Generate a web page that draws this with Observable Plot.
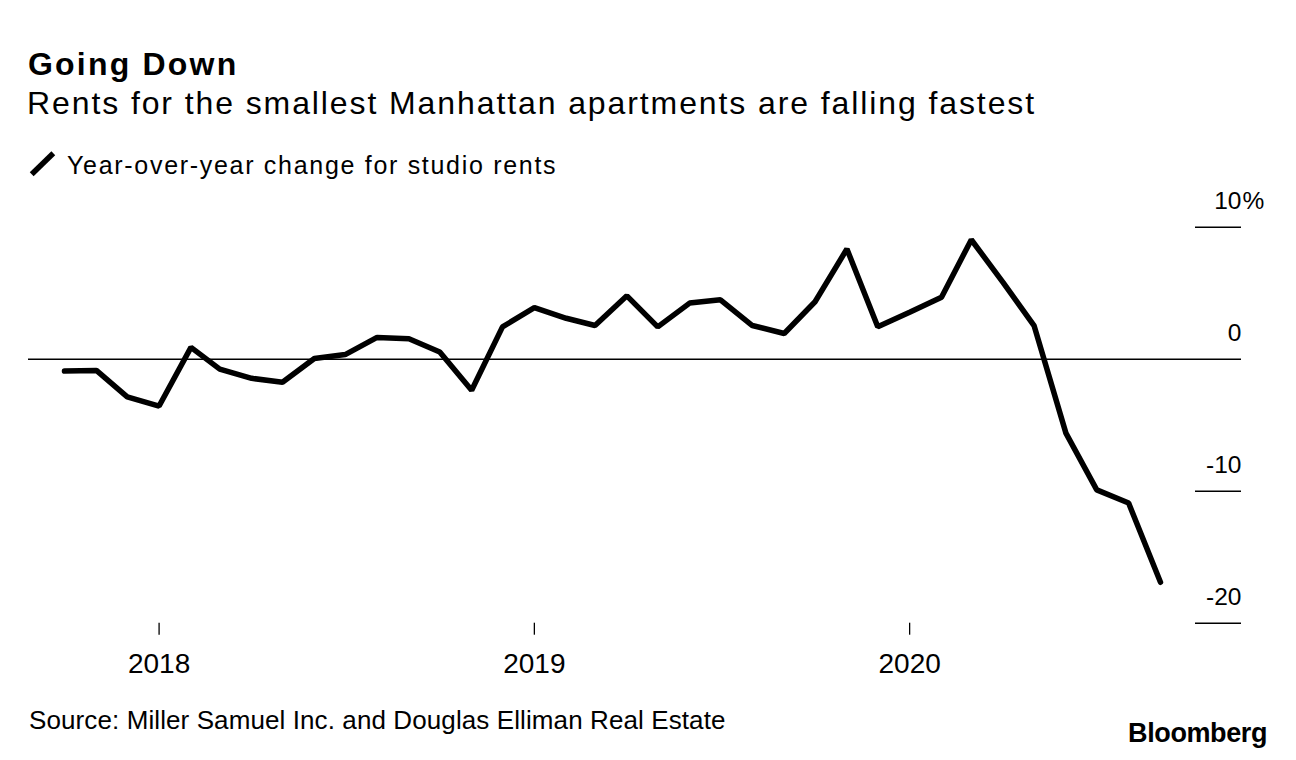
<!DOCTYPE html>
<html>
<head>
<meta charset="utf-8">
<script src="https://cdn.jsdelivr.net/npm/d3@7"></script>
<script src="https://cdn.jsdelivr.net/npm/@observablehq/plot@0.6"></script>
<style>
  html, body { margin: 0; padding: 0; background: #fff; }
  body { width: 1296px; height: 760px; position: relative; overflow: hidden;
         font-family: "Liberation Sans", Arial, Helvetica, sans-serif; color: #000; }
  .t { position: absolute; white-space: nowrap; line-height: 1; }
  #title { left: 28px; top: 48px; font-size: 32px; font-weight: bold; letter-spacing: 2.2px; }
  #subtitle { left: 27px; top: 87px; font-size: 32px; letter-spacing: 1.9px; }
  #legend { left: 28px; top: 150px; height: 30px; }
  #legend svg { position: absolute; left: 0; top: 0; }
  #legendText { left: 67px; top: 153px; font-size: 25px; letter-spacing: 1.7px; }
  #chart { position: absolute; left: 0; top: 180px; }
  #source { left: 29px; top: 707.3px; font-size: 26px; letter-spacing: 0.1px; }
  #brand { right: 29px; top: 719.8px; font-size: 27px; font-weight: bold; letter-spacing: -0.4px; }
</style>
</head>
<body>
<div class="t" id="title">Going Down</div>
<div class="t" id="subtitle">Rents for the smallest Manhattan apartments are falling fastest</div>
<div class="t" id="legend"><svg width="32" height="30"><line x1="3.7" y1="24.3" x2="25.3" y2="3.3" stroke="#000" stroke-width="5.5"/></svg></div>
<div class="t" id="legendText">Year-over-year change for studio rents</div>
<div id="chart"></div>
<div class="t" id="source">Source: Miller Samuel Inc. and Douglas Elliman Real Estate</div>
<div class="t" id="brand">Bloomberg</div>
<script>
// ---- data ----
const months = [
  "2017-10","2017-11","2017-12",
  "2018-01","2018-02","2018-03","2018-04","2018-05","2018-06",
  "2018-07","2018-08","2018-09","2018-10","2018-11","2018-12",
  "2019-01","2019-02","2019-03","2019-04","2019-05","2019-06",
  "2019-07","2019-08","2019-09","2019-10","2019-11","2019-12",
  "2020-01","2020-02","2020-03","2020-04","2020-05","2020-06",
  "2020-07","2020-08","2020-09"
];
const studioYoY = [
  -0.9, -0.85, -2.85,
  -3.55, 0.9, -0.75, -1.45, -1.75, 0.05,
  0.35, 1.65, 1.55, 0.55, -2.35, 2.45,
  3.9, 3.1, 2.55, 4.8, 2.45, 4.25,
  4.5, 2.55, 1.95, 4.35, 8.35, 2.45,
  3.55, 4.7, 9.05, 5.8, 2.55, -5.6,
  -9.9, -10.9, -16.9
];
const yTicks = [10, 0, -10, -20];
const yTickLabels = ["10", "0", "-10", "-20"];
const xTickYears = [2018, 2019, 2020];

const parseMonth = d3.utcParse("%Y-%m");
const data = months.map((m, i) => ({date: parseMonth(m), value: studioYoY[i]}));
const yLabelData = yTicks.map((v, i) => ({v, label: yTickLabels[i]}));
const xTickDates = xTickYears.map(y => new Date(Date.UTC(y, 0, 1)));

const chart = Plot.plot({
  width: 1296,
  height: 520,
  marginLeft: 64,
  marginRight: 136,
  marginTop: 46.7,
  marginBottom: 77.3,
  style: {fontFamily: '"Liberation Sans", Arial, sans-serif', background: "#fff", color: "#000", overflow: "visible"},
  x: {type: "utc", domain: [data[0].date, data[data.length - 1].date], axis: null},
  y: {domain: [-20, 10], axis: null},
  marks: [
    Plot.ruleY(yTicks.filter(v => v !== 0), {insetLeft: 1131, insetRight: -81, stroke: "#000", strokeWidth: 1.4}),
    Plot.ruleY([0], {insetLeft: -36, insetRight: -81, stroke: "#000", strokeWidth: 1.4}),
    Plot.text(yLabelData, {y: "v", text: "label", frameAnchor: "right", dx: 81, dy: -26, textAnchor: "end", fontSize: 24.5, fill: "#000"}),
    Plot.text(yLabelData.filter(d => d.v === d3.max(yTicks)), {y: "v", text: () => "%", frameAnchor: "right", dx: 82, dy: -26, textAnchor: "start", fontSize: 24.5, fill: "#000"}),
    Plot.axisX({ticks: xTickDates, tickFormat: d3.utcFormat("%Y"), tickSize: 12, tickPadding: 18, fontSize: 28, stroke: "#000", strokeWidth: 1.3, fill: "#000", label: null}),
    Plot.line(data, {x: "date", y: "value", stroke: "#000", strokeWidth: 5.5, strokeLinejoin: "miter", strokeLinecap: "round"})
  ]
});
document.getElementById("chart").appendChild(chart);
</script>
</body>
</html>
